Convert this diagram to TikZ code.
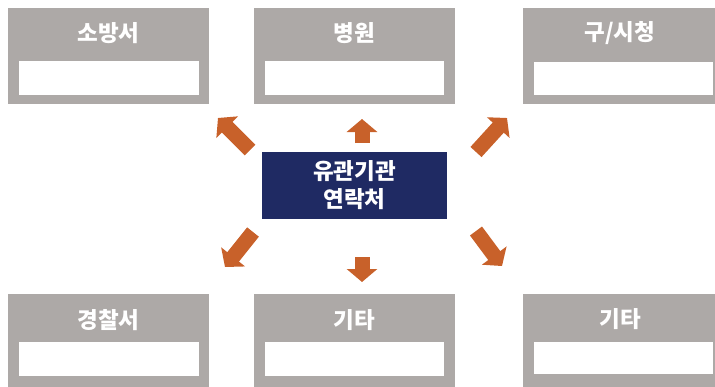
\documentclass[tikz,border=0pt]{standalone}
\usepackage{fontspec}
\newfontfamily\kr{Noto Sans CJK KR}
\usetikzlibrary{arrows.meta}
\definecolor{boxgray}{HTML}{ADA9A7}
\definecolor{navy}{HTML}{1F2A63}
\definecolor{arrorange}{HTML}{C8612A}
\tikzset{
  outerbox/.style={fill=boxgray, draw=none},
  innerbox/.style={fill=white, draw=none},
  titletext/.style={text=white, font=\kr\bfseries\fontsize{22.5}{26}\selectfont, inner sep=0pt},
  blockarrow/.style={draw=arrorange, line width=15pt, -{Triangle[width=30pt,length=13pt]}},
}
\begin{document}
\begin{tikzpicture}[x=1pt,y=-1pt]
\useasboundingbox (0,0) rectangle (715,386);
\clip (0,0) rectangle (715,386);
% top row
\fill[outerbox] (8,8) rectangle (209,104);
\fill[innerbox] (19,61) rectangle (199,95);
\node[titletext] (fire) at (108.5,33) {소방서};
\fill[outerbox] (254,8) rectangle (455,104);
\fill[innerbox] (265,61) rectangle (444,95);
\node[titletext] (hosp) at (354.5,33) {병원};
\fill[outerbox] (523,8) rectangle (720,104);
\fill[innerbox] (534,62) rectangle (713,95);
\node[titletext] (city) at (620,33) {구/시청};
% bottom row
\fill[outerbox] (8,294) rectangle (209,390);
\fill[innerbox] (19,342) rectangle (199,376);
\node[titletext] (police) at (108.5,320) {경찰서};
\fill[outerbox] (254,294) rectangle (455,390);
\fill[innerbox] (265,342) rectangle (444,376);
\node[titletext] (etc1) at (354.5,320) {기타};
\fill[outerbox] (523,294) rectangle (720,390);
\fill[innerbox] (534,342) rectangle (713,374);
\node[titletext] (etc2) at (620,319) {기타};
% center
\node[fill=navy, minimum width=185pt, minimum height=67pt, inner sep=0pt,
      text=white, font=\kr\bfseries\fontsize{22.5}{28}\selectfont, align=center] (center) at (354.5,185.5) {유관기관\\연락처};
% arrows
\coordinate (ua0) at (362,143); \coordinate (ua1) at (362,119);
\coordinate (da0) at (362,257); \coordinate (da1) at (362,282);
\coordinate (ul0) at (250,150); \coordinate (ul1) at (218,118);
\coordinate (ur0) at (476,152); \coordinate (ur1) at (507,118);
\coordinate (ll0) at (253,232); \coordinate (ll1) at (225,267);
\coordinate (lr0) at (476,231); \coordinate (lr1) at (502,266);
\draw[blockarrow] (ua0) -- (ua1);
\draw[blockarrow] (da0) -- (da1);
\draw[blockarrow] (ul0) -- (ul1);
\draw[blockarrow] (ur0) -- (ur1);
\draw[blockarrow] (ll0) -- (ll1);
\draw[blockarrow] (lr0) -- (lr1);
\end{tikzpicture}
\end{document}
